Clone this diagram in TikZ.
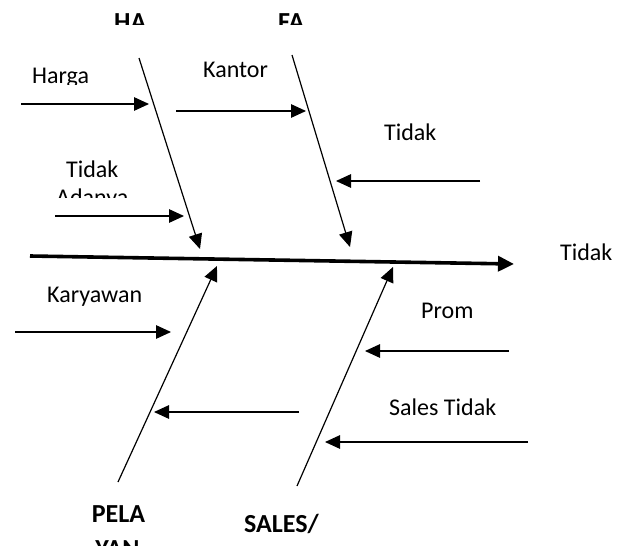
\documentclass[tikz,border=0pt]{standalone}
\usepackage{fontspec}
\setmainfont{Carlito}
\usetikzlibrary{arrows.meta}
\begin{document}
\begin{tikzpicture}[x=1pt,y=-1pt,
  bone/.style={line width=1.2pt,-{Triangle[length=15pt,width=13.5pt]}},
  spine/.style={line width=3.6pt,-{Triangle[length=16pt,width=15pt]}},
  lbl/.style={inner sep=0pt,anchor=base west,font=\fontsize{24}{28}\selectfont},
  head/.style={inner sep=0pt,anchor=base west,font=\fontsize{26}{30}\selectfont\bfseries}]
\useasboundingbox (0,0) rectangle (632,546);

% main spine and effect
\coordinate (spS) at (30,256);
\coordinate (spE) at (514,264);
\draw[spine] (spS) -- (spE);
\node[lbl] (effect) at (560,260) {Tidak};

% main bones
\coordinate (haS) at (139,58);  \coordinate (haE) at (200,249);
\coordinate (faS) at (292,55);  \coordinate (faE) at (350,247);
\coordinate (plS) at (118,482); \coordinate (plE) at (217,266);
\coordinate (saS) at (297,486); \coordinate (saE) at (393,267);
\draw[bone] (haS) -- (haE);
\draw[bone] (faS) -- (faE);
\draw[bone] (plS) -- (plE);
\draw[bone] (saS) -- (saE);

% sub-causes
\coordinate (c1S) at (21,104);  \coordinate (c1E) at (149,104);
\coordinate (c2S) at (176,111); \coordinate (c2E) at (306,111);
\coordinate (c3S) at (55,216);  \coordinate (c3E) at (184,216);
\coordinate (c4S) at (480,181); \coordinate (c4E) at (336,181);
\coordinate (c5S) at (15,332);  \coordinate (c5E) at (171,332);
\coordinate (c6S) at (299,412); \coordinate (c6E) at (154,412);
\coordinate (c7S) at (509,351); \coordinate (c7E) at (365,351);
\coordinate (c8S) at (528,442); \coordinate (c8E) at (325,442);
\foreach \c in {c1,c2,c3,c4,c5,c6,c7,c8}
  \draw[bone] (\c S) -- (\c E);

% category headings (text boxes cut off at their lower edge)
\begin{scope}
  \clip (100,0) rectangle (170,24.5);
  \node[head] (ha) at (114,30.5) {HA};
\end{scope}
\begin{scope}
  \clip (265,0) rectangle (330,24.5);
  \node[head] (fa) at (278,30.5) {FA};
\end{scope}
\node[head,anchor=base] (pela) at (118.5,522) {PELA};
\node[head,anchor=base] (yan) at (117.5,557) {YAN};
\node[head] (sales) at (244,532) {SALES/};

% cause labels
\begin{scope}
  \clip (20,55) rectangle (110,84);
  \node[lbl] (harga) at (32,83.5) {Harga};
\end{scope}
\node[lbl] (kantor) at (203,77.5) {Kantor};
\node[lbl] (tidak1) at (66,177.5) {Tidak};
\begin{scope}
  \clip (40,180) rectangle (140,197);
  \node[lbl] (adanya) at (56,205.5) {Adanya};
\end{scope}
\node[lbl] (tidak2) at (384,140.5) {Tidak};
\node[lbl] (karyawan) at (47,302.5) {Karyawan};
\node[lbl] (prom) at (421,318.5) {Prom};
\node[lbl] (salestidak) at (389,415.5) {Sales Tidak};
\end{tikzpicture}
\end{document}
